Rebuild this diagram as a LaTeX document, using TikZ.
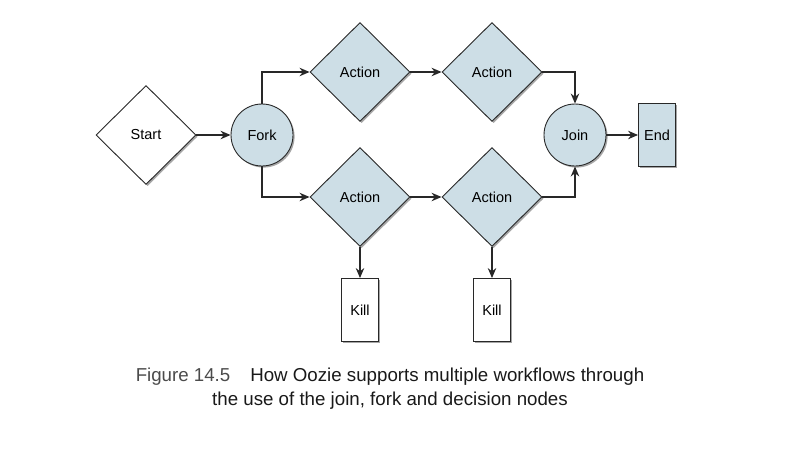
\documentclass[tikz,border=0pt]{standalone}
\usepackage{fontspec}
\setmainfont{Liberation Sans}
\usetikzlibrary{shapes.geometric,arrows.meta,shadows}
\definecolor{nodefill}{RGB}{205,222,230}
\definecolor{linecol}{RGB}{40,40,40}
\definecolor{figgray}{RGB}{75,75,75}
\begin{document}
\begin{tikzpicture}[x=1pt,y=-1pt,
  every node/.style={font=\fontsize{14.5}{16}\selectfont, text=black},
  shad/.style={drop shadow={shadow xshift=1.6pt, shadow yshift=-1.6pt, fill=black, opacity=0.35}},
  dia/.style={diamond, aspect=1, draw=linecol, line width=0.9pt, inner sep=0pt, minimum width=100pt, minimum height=99pt, shad},
  actbox/.style={dia, fill=nodefill},
  startbox/.style={dia, fill=white},
  circ/.style={circle, draw=linecol, line width=0.9pt, fill=nodefill, minimum size=62pt, inner sep=0pt, shad},
  rectbox/.style={rectangle, draw=linecol, line width=0.9pt, minimum width=37pt, minimum height=63pt, inner sep=0pt, shad},
  conn/.style={draw=linecol, line width=1.3pt, -{Stealth[length=10pt,width=8.5pt]}},
  captext/.style={font=\fontsize{18.7}{24}\selectfont, anchor=base, text=black!90}
]
\useasboundingbox (0,0) rectangle (798,448);
\node[startbox] (start) at (146,135) {Start};
\node[circ] (fork) at (262,135) {Fork};
\node[actbox] (a1) at (360,72) {Action};
\node[actbox] (a2) at (360,197) {Action};
\node[actbox] (a3) at (492,72) {Action};
\node[actbox] (a4) at (492,197) {Action};
\node[circ] (join) at (575,135) {Join};
\node[rectbox, fill=nodefill] (end) at (657,135) {End};
\node[rectbox, fill=white] (k1) at (360,310) {Kill};
\node[rectbox, fill=white] (k2) at (492,310) {Kill};

\draw[conn] (start.east) -- (fork.west);
\draw[conn] (fork.north) |- (a1.west);
\draw[conn] (fork.south) |- (a2.west);
\draw[conn] (a1.east) -- (a3.west);
\draw[conn] (a2.east) -- (a4.west);
\draw[conn] (a3.east) -| (join.north);
\draw[conn] (a4.east) -| (join.south);
\draw[conn] (join.east) -- (end.west);
\draw[conn] (a2.south) -- (k1.north);
\draw[conn] (a4.south) -- (k2.north);

\node[captext] (cap1) at (390,381) {\textcolor{figgray}{Figure 14.5}\hspace{20pt}How Oozie supports multiple workflows through};
\node[captext] (cap2) at (390,405) {the use of the join, fork and decision nodes};
\end{tikzpicture}
\end{document}
